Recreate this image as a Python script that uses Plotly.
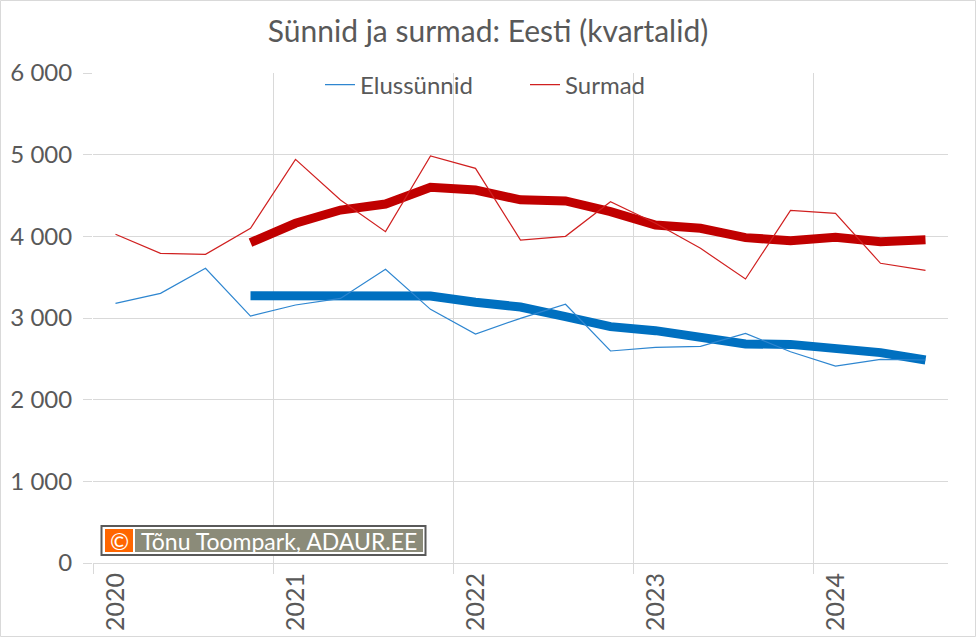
import plotly.graph_objects as go

quarters = ["2020Q1", "2020Q2", "2020Q3", "2020Q4",
            "2021Q1", "2021Q2", "2021Q3", "2021Q4",
            "2022Q1", "2022Q2", "2022Q3", "2022Q4",
            "2023Q1", "2023Q2", "2023Q3", "2023Q4",
            "2024Q1", "2024Q2", "2024Q3"]

births = [3180, 3302, 3608, 3024, 3159, 3240, 3596, 3106, 2804, 2996,
          3168, 2596, 2641, 2653, 2812, 2587, 2412, 2494, 2486]
deaths = [4025, 3792, 3780, 4098, 4943, 4445, 4057, 4984, 4833, 3955,
          4000, 4424, 4160, 3853, 3478, 4318, 4282, 3670, 3584]

births_ma = [None, None, None, 3272, 3273, 3270, 3265, 3270, 3192, 3135,
             3018, 2894, 2845, 2771, 2682, 2677, 2617, 2576, 2486]
deaths_ma = [None, None, None, 3924, 4160, 4322, 4396, 4600, 4567, 4447,
             4433, 4302, 4139, 4098, 3984, 3947, 3988, 3935, 3959]

year_labels = ["2020", "2021", "2022", "2023", "2024"]

title_text = "Sünnid ja surmad: Eesti (kvartalid)"
watermark = "Tõnu Toompark, ADAUR.EE"

W, H = 976, 637
ML, MR, MT, MB = 93, 28, 73, 74
PW, PH = W - ML - MR, H - MT - MB

def px(x):
    return (x - ML) / PW

def py(y):
    return (H - MB - y) / PH

TXT = "#595959"
GRID = "#D9D9D9"
BLUE = "#0070C0"
RED = "#C00000"
FONT = "Lato"

idx = list(range(len(quarters)))

fig = go.Figure()
fig.add_trace(go.Scatter(x=idx, y=births_ma, mode="lines", line=dict(color=BLUE, width=9),
                         showlegend=False, hoverinfo="skip"))
fig.add_trace(go.Scatter(x=idx, y=deaths_ma, mode="lines", line=dict(color=RED, width=9),
                         showlegend=False, hoverinfo="skip"))
fig.add_trace(go.Scatter(x=idx, y=births, mode="lines", name="Elussünnid",
                         line=dict(color="#2E86D0", width=1.2)))
fig.add_trace(go.Scatter(x=idx, y=deaths, mode="lines", name="Surmad",
                         line=dict(color="#D02020", width=1.2)))

shapes = [
    # outer border
    dict(type="rect", xref="paper", yref="paper", x0=px(0.5), x1=px(975.5), y0=py(636.5), y1=py(0.5),
         line=dict(color=GRID, width=1), fillcolor="rgba(0,0,0,0)", layer="below"),
    # watermark
    dict(type="rect", xref="paper", yref="paper", x0=px(101.5), x1=px(425.5), y0=py(555), y1=py(526),
         line=dict(color="#595959", width=2), fillcolor="white", layer="above"),
    dict(type="rect", xref="paper", yref="paper", x0=px(105), x1=px(133), y0=py(552), y1=py(529),
         line=dict(width=0), fillcolor="#FF6600", layer="above"),
    dict(type="rect", xref="paper", yref="paper", x0=px(135), x1=px(423), y0=py(552), y1=py(529),
         line=dict(width=0), fillcolor="#8B8B79", layer="above"),
]

annotations = [
    dict(xref="paper", yref="paper", x=px(119), y=py(540.5), text="©", showarrow=False,
         font=dict(family=FONT, size=23, color="white"), xanchor="center", yanchor="middle"),
    dict(xref="paper", yref="paper", x=px(139), y=py(540.5), text=watermark, showarrow=False,
         font=dict(family=FONT, size=23, color="white"), xanchor="left", yanchor="middle"),
]

fig.update_layout(
    width=W, height=H,
    margin=dict(l=ML, r=MR, t=MT, b=MB, autoexpand=False),
    paper_bgcolor="white", plot_bgcolor="white",
    separators=", ",
    title=dict(text=title_text, x=0.5, xref="container", xanchor="center", y=1 - 31 / H, yanchor="middle",
               font=dict(family=FONT, size=30, color=TXT)),
    font=dict(family=FONT, color=TXT),
    showlegend=True,
    legend=dict(orientation="h", x=px(320), y=py(85), xanchor="left", yanchor="middle",
                font=dict(family=FONT, size=24, color=TXT), bgcolor="rgba(0,0,0,0)",
                entrywidth=160, entrywidthmode="pixels", itemwidth=30, tracegroupgap=0),
    shapes=shapes,
    annotations=annotations,
    xaxis=dict(range=[-0.5, len(quarters) - 0.5], tickmode="array", tickvals=[0, 4, 8, 12, 16],
               ticktext=year_labels, tickangle=-90, showgrid=False, zeroline=False, showline=False,
               ticks="", tickfont=dict(family=FONT, size=25, color=TXT), ticklabelstandoff=4,
               minor=dict(tickmode="array", tickvals=[-0.5, 3.5, 7.5, 11.5, 15.5], showgrid=True,
                          gridcolor=GRID, gridwidth=1, ticks="outside", ticklen=10, tickcolor=GRID)),
    yaxis=dict(range=[0, 6000], dtick=1000, tickformat=",", showgrid=True, gridcolor=GRID, gridwidth=1,
               zeroline=True, zerolinecolor=GRID, zerolinewidth=1, showline=False,
               ticks="outside", ticklen=9, tickcolor=GRID, ticklabelstandoff=6,
               tickfont=dict(family=FONT, size=24, color=TXT)),
)

fig.write_html("out.html", config={"displayModeBar": False},
               post_script="document.body.style.margin='0';")
